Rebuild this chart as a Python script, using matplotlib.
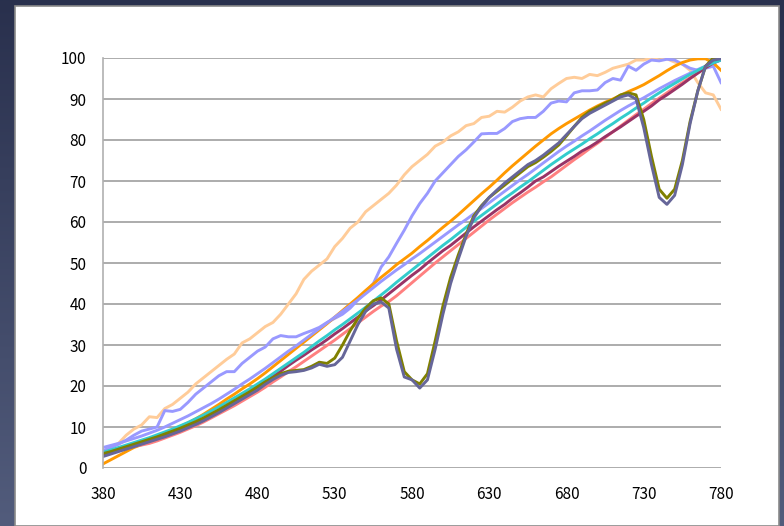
import numpy as np
import matplotlib.pyplot as plt
from matplotlib.colors import LinearSegmentedColormap
from matplotlib.patches import Rectangle

plt.rcParams['font.family'] = ['Noto Sans CJK JP', 'DejaVu Sans']

wavelength = list(range(380, 781, 5))

peach = [4, 5, 6, 8, 9.5, 10.5, 12.5, 12.3, 14.5, 15.5, 17, 18.5, 20.5, 22, 23.5, 25, 26.5,
         27.8, 30.5, 31.5, 33, 34.5, 35.5, 37.5, 40, 42.5, 46, 48, 49.5, 51, 54, 56, 58.5, 60,
         62.5, 64, 65.5, 67, 69, 71.5, 73.5, 75, 76.5, 78.5, 79.5, 81, 82, 83.5, 84, 85.5,
         85.8, 87, 86.8, 88, 89.5, 90.5, 91, 90.5, 92.5, 93.8, 95, 95.3, 95, 96, 95.7, 96.5,
         97.5, 98, 98.5, 99.5, 99.5, 100, 99.5, 99.8, 99, 98.5, 97, 94, 91.5, 91, 87.5]
lavender_rough = [4.2, 5, 5.8, 6.8, 8, 9, 9.5, 10, 14, 13.8, 14.3, 16, 18, 19.5, 21, 22.5, 23.5,
                  23.5, 25.5, 27, 28.5, 29.5, 31.5, 32.3, 32, 32, 32.8, 33.5, 34.3, 35.5, 36.5,
                  37.5, 39, 41, 43, 45, 49, 51.5, 54.8, 58, 61.5, 64.5, 67, 70, 72, 74, 76, 77.6,
                  79.5, 81.5, 81.6, 81.6, 82.8, 84.5, 85.2, 85.5, 85.5, 87, 89, 89.5, 89.3, 91.5,
                  92, 92, 92.2, 94, 95, 94.6, 98, 97, 98.5, 99.5, 99.3, 99.7, 99.5, 98.5, 97.5,
                  97, 97.5, 98, 94]
orange = [1, 2, 3, 4, 5, 5.7, 6.5, 7.4, 8.3, 9.2, 10.1, 11, 12, 13.1, 14.3, 15.5, 16.8, 18,
          19.3, 20.5, 21.8, 23.2, 24.7, 26.2, 27.7, 29.2, 30.7, 32.2, 33.7, 35.2, 36.8, 38.4,
          40, 41.6, 43.3, 44.9, 46.5, 48, 49.6, 51, 52.4, 54, 55.5, 57.1, 58.7, 60.2, 61.8,
          63.5, 65.2, 66.9, 68.5, 70.2, 72, 73.7, 75.3, 76.9, 78.5, 80, 81.5, 82.8, 84, 85.1,
          86.2, 87.3, 88.3, 89.2, 90, 90.9, 91.8, 92.6, 93.5, 94.6, 95.7, 96.9, 98, 98.9, 99.5,
          99.8, 99.8, 98.8, 97]
lavender = [5, 5.5, 6, 6.6, 7.2, 7.8, 8.5, 9.2, 10, 10.9, 11.8, 12.7, 13.7, 14.7, 15.7, 16.8,
            18, 19.2, 20.5, 21.7, 23, 24.3, 25.7, 27.1, 28.5, 29.8, 31.2, 32.6, 34, 35.4, 36.8,
            38.2, 39.6, 41, 42.5, 44, 45.5, 46.9, 48.3, 49.6, 51, 52.3, 53.7, 55.1, 56.5, 57.9,
            59.3, 60.6, 62, 63.3, 64.7, 66.1, 67.5, 68.9, 70.3, 71.6, 73, 74.4, 75.8, 77.2,
            78.5, 79.7, 81, 82.2, 83.5, 84.8, 86, 87.2, 88.3, 89.3, 90.3, 91.4, 92.5, 93.5,
            94.5, 95.4, 96.3, 97.2, 98, 98.8, 99.5]
teal = [3.8, 4.4, 5, 5.6, 6.2, 6.8, 7.4, 8.1, 8.8, 9.5, 10.3, 11.1, 12, 12.9, 13.9, 14.9, 16,
        17.1, 18.2, 19.3, 20.5, 21.7, 23, 24.3, 25.6, 26.9, 28.2, 29.6, 31, 32.3, 33.7, 35,
        36.4, 37.8, 39.2, 40.7, 42.2, 43.7, 45.3, 46.8, 48.3, 49.8, 51.3, 52.8, 54.3, 55.7,
        57.2, 58.7, 60.2, 61.6, 63, 64.4, 65.8, 67.1, 68.5, 69.8, 71.2, 72.6, 74, 75.3, 76.6,
        77.8, 79, 80.3, 81.5, 82.8, 84, 85.3, 86.5, 87.8, 89, 90.3, 91.5, 92.7, 93.8, 94.9,
        96, 97, 98, 98.8, 99.5]
maroon = [3, 3.7, 4.4, 5, 5.6, 6.2, 6.8, 7.4, 8, 8.6, 9.4, 10.2, 11, 11.9, 13, 14, 15, 16.2,
          17.3, 18.5, 19.7, 21, 22.3, 23.6, 25, 26.3, 27.5, 28.8, 30, 31.3, 32.7, 34, 35.4,
          36.8, 38.3, 39.6, 41, 42.5, 44, 45.5, 47, 48.4, 50, 51.5, 53, 54.3, 55.8, 57.3, 58.8,
          60.2, 61.6, 63, 64.3, 65.8, 67.1, 68.5, 70, 71, 72.3, 73.6, 74.8, 76, 77.3, 78.3,
          79.5, 80.8, 82, 83.2, 84.5, 85.8, 87, 88.3, 89.8, 91, 92.3, 93.6, 95, 96.3, 97.6,
          98.8, 99.6]
salmon = [3.2, 3.8, 4.4, 5, 5.3, 5.6, 6, 6.6, 7.3, 8, 8.7, 9.5, 10.3, 11.2, 12.2, 13.2, 14.2,
          15.2, 16.3, 17.4, 18.5, 19.7, 21, 22.2, 23.5, 24.7, 26, 27.3, 28.6, 29.9, 31.2, 32.6,
          34, 35.4, 36.8, 38.2, 39.5, 40.6, 42, 43.6, 45.2, 46.8, 48.4, 50, 51.5, 53, 54.5, 56,
          57.5, 59, 60.5, 61.9, 63.3, 64.7, 66, 67.3, 68.5, 69.8, 71, 72.4, 73.8, 75.2, 76.5,
          77.9, 79.2, 80.6, 82, 83.4, 84.8, 86.2, 87.5, 88.9, 90.2, 91.5, 92.8, 94, 95.2,
          96.5, 97.7, 98.8, 99.8]
olive = [3.5, 4, 4.6, 5.2, 5.8, 6.4, 7, 7.6, 8.3, 9, 9.7, 10.5, 11.3, 12.2, 13.2, 14.2, 15.3,
         16.4, 17.5, 18.6, 19.8, 21, 22, 23, 23.6, 23.8, 24, 24.8, 25.8, 25.5, 26.8, 30, 33.5,
         36.5, 39, 40.8, 41.5, 40, 31, 23.5, 21.5, 20.5, 23, 31, 39.5, 46.5, 52, 57, 61.5, 64,
         66, 67.5, 69, 70.5, 72, 73.5, 74.5, 75.8, 77.2, 78.8, 81, 83.3, 85.5, 87, 88, 89,
         89.8, 91, 91.5, 91, 85, 76, 68, 65.8, 68, 75, 84.5, 92, 98, 100, 100]
slate = [2.8, 3.4, 4, 4.6, 5.2, 5.8, 6.4, 7, 7.6, 8.3, 9, 9.8, 10.6, 11.5, 12.5, 13.5, 14.6,
         15.7, 16.8, 17.9, 19, 20.4, 21.6, 22.6, 23.3, 23.5, 23.8, 24.4, 25.3, 24.8, 25.2, 27,
         31, 35, 38.2, 40, 40.5, 39, 29, 22.2, 21.5, 19.5, 21.5, 29, 37.5, 45, 51, 56.5, 61,
         63.8, 66, 67.8, 69.5, 71, 72.5, 74, 75, 76.3, 77.8, 79.3, 81.3, 83.3, 85.2, 86.5, 87.5,
         88.5, 89.5, 90.5, 91, 90, 83, 74, 66, 64.3, 66.5, 74, 84, 92, 98, 99.5, 99.8]

series = [
    (peach, '#FFCC99'),
    (lavender_rough, '#9999FF'),
    (orange, '#FF9900'),
    (lavender, '#9999FF'),
    (salmon, '#FF8080'),
    (maroon, '#993366'),
    (teal, '#33CCCC'),
    (olive, '#808000'),
    (slate, '#666699'),
]

fig = plt.figure(figsize=(7.84, 5.26), dpi=100)

# dark slide backdrop with a soft vertical gradient
bg = fig.add_axes([0, 0, 1, 1], zorder=-10)
bg.axis('off')
cmap = LinearSegmentedColormap.from_list('slide', ['#29304d', '#525c7c'])
bg.imshow(np.linspace(0, 1, 256).reshape(-1, 1), aspect='auto', cmap=cmap,
          extent=[0, 1, 0, 1])
bg.set_xlim(0, 1)
bg.set_ylim(0, 1)
bg.add_patch(Rectangle((15 / 784, 0), (779 - 15) / 784, 1 - 6 / 526,
                       facecolor='white', edgecolor='#8a8a8a', linewidth=1.2))

ax = fig.add_axes([103 / 784, 1 - 468 / 526, (721 - 103) / 784, (468 - 58) / 526])
ax.set_facecolor('none')
for values, color in series:
    ax.plot(wavelength, values, color=color, linewidth=2.1, solid_joinstyle='round')

ax.set_xlim(380, 780)
ax.set_ylim(0, 100)
ax.set_xticks(range(380, 781, 50))
ax.set_yticks(range(0, 101, 10))
ax.grid(axis='y', color='#a6a6a6', linewidth=1.3)
ax.set_axisbelow(True)
for side in ['top', 'right', 'bottom']:
    ax.spines[side].set_visible(False)
ax.spines['left'].set_color('#b0b0b0')
ax.spines['left'].set_linewidth(1.2)
ax.tick_params(axis='both', length=0, labelsize=11, colors='black')
ax.tick_params(axis='y', pad=12)
ax.tick_params(axis='x', pad=13)

fig.savefig('out.png', dpi=100)
